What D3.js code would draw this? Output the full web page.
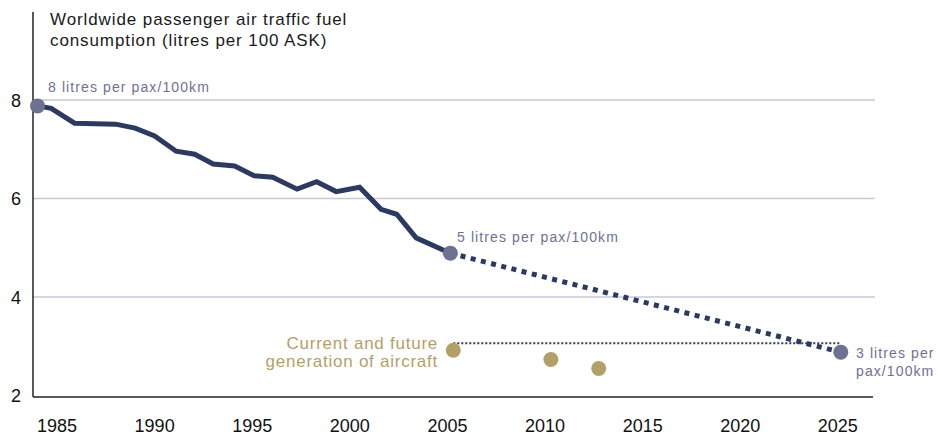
<!DOCTYPE html>
<html>
<head>
<meta charset="utf-8">
<script src="https://cdn.jsdelivr.net/npm/d3@7"></script>
<style>
  body { margin: 0; background: #fff; }
  svg { display: block; font-family: "Liberation Sans", Arial, sans-serif; }
</style>
</head>
<body>
<script>
const width = 940,
      height = 437;

// fuel burn history, litres per 100 ASK
const histYears = [1984, 1984.7, 1985.9, 1988, 1989, 1990, 1991.1, 1992.05, 1993, 1994.1,
                   1995.1, 1996.05, 1997.3, 1998.3, 1999.3, 2000.5, 2001.6, 2002.4, 2003.4, 2005.15];
const histValues = [7.88, 7.83, 7.53, 7.51, 7.43, 7.27, 6.96, 6.90, 6.70, 6.66,
                    6.46, 6.43, 6.19, 6.34, 6.14, 6.23, 5.78, 5.68, 5.20, 4.89];

// target path 2005 -> 2025
const targetYears = [2005.15, 2025.15];
const targetValues = [4.89, 2.88];

// current and future generation aircraft
const aircraftYears = [2005.3, 2010.3, 2012.75];
const aircraftValues = [2.92, 2.73, 2.55];
const aircraftLevel = 3.06;

const xTicks = [1985, 1990, 1995, 2000, 2005, 2010, 2015, 2020, 2025];
const yTicks = [2, 4, 6, 8];

const navy = "#2c3a5f",
      slate = "#6f7193",
      gold = "#b39f68",
      grid = "#c9c8d8";

const x = d3.scaleLinear().domain([1983.77, 2026.8]).range([33, 873]);
const y = d3.scaleLinear().domain([8, 4]).range([100, 297]);

const svg = d3.select("body").append("svg")
    .attr("width", width)
    .attr("height", height);

// gridlines
svg.selectAll(".grid")
  .data(yTicks.filter(d => d > 2))
  .enter().append("line")
    .attr("class", "grid")
    .attr("x1", x.range()[0]).attr("x2", 875)
    .attr("y1", d => y(d)).attr("y2", d => y(d))
    .attr("stroke", grid)
    .attr("stroke-width", 1.5);

// axes
svg.append("line")
    .attr("x1", 33).attr("x2", 33)
    .attr("y1", 12).attr("y2", y(1.97))
    .attr("stroke", "#222").attr("stroke-width", 1.5);
svg.append("line")
    .attr("x1", 33).attr("x2", x.range()[1])
    .attr("y1", y(1.97)).attr("y2", y(1.97))
    .attr("stroke", "#222").attr("stroke-width", 1.5);

svg.selectAll(".ylab")
  .data(yTicks)
  .enter().append("text")
    .attr("class", "ylab")
    .attr("x", 21)
    .attr("y", d => y(d) + 6.5)
    .attr("text-anchor", "end")
    .attr("font-size", 18)
    .attr("fill", "#111")
    .text(d => d);

svg.selectAll(".xlab")
  .data(xTicks)
  .enter().append("text")
    .attr("class", "xlab")
    .attr("x", d => x(d))
    .attr("y", 431.5)
    .attr("text-anchor", "middle")
    .attr("font-size", 18)
    .attr("fill", "#111")
    .text(d => d);

// title
svg.append("text")
    .attr("x", 50).attr("y", 25)
    .attr("font-size", 17)
    .attr("letter-spacing", 0.9)
    .attr("fill", "#1a1a1a")
    .selectAll("tspan")
    .data(["Worldwide passenger air traffic fuel", "consumption (litres per 100 ASK)"])
    .enter().append("tspan")
      .attr("x", 50)
      .attr("dy", (d, i) => i ? 20.5 : 0)
      .text(d => d);

const line = d3.line()
    .x(d => x(d[0]))
    .y(d => y(d[1]));

// aircraft level dotted line
svg.append("path")
    .attr("d", line([[aircraftYears[0], aircraftLevel], [targetYears[1], aircraftLevel]]))
    .attr("fill", "none")
    .attr("stroke", navy)
    .attr("stroke-width", 2)
    .attr("stroke-dasharray", "2,2");

// target projection
svg.append("path")
    .attr("d", line(d3.zip(targetYears, targetValues)))
    .attr("fill", "none")
    .attr("stroke", navy)
    .attr("stroke-width", 5)
    .attr("stroke-dasharray", "5,5.5");

// history
svg.append("path")
    .attr("d", line(d3.zip(histYears, histValues)))
    .attr("fill", "none")
    .attr("stroke", navy)
    .attr("stroke-width", 5)
    .attr("stroke-linejoin", "miter");

// aircraft dots
svg.selectAll(".aircraft")
  .data(d3.zip(aircraftYears, aircraftValues))
  .enter().append("circle")
    .attr("class", "aircraft")
    .attr("cx", d => x(d[0]))
    .attr("cy", d => y(d[1]))
    .attr("r", 7.5)
    .attr("fill", gold);

// milestone dots
const milestones = [[histYears[0], histValues[0]], [targetYears[0], targetValues[0]], [targetYears[1], targetValues[1]]];
svg.selectAll(".milestone")
  .data(milestones)
  .enter().append("circle")
    .attr("class", "milestone")
    .attr("cx", d => x(d[0]))
    .attr("cy", d => y(d[1]))
    .attr("r", 7.5)
    .attr("fill", slate);

// annotations
const note = (tx, ty, lines, color, anchor, size, spacing) => {
    svg.append("text")
        .attr("x", tx).attr("y", ty)
        .attr("font-size", size)
        .attr("letter-spacing", spacing)
        .attr("fill", color)
        .attr("text-anchor", anchor)
        .selectAll("tspan")
        .data(lines)
        .enter().append("tspan")
          .attr("x", tx)
          .attr("dy", (d, i) => i ? 18 : 0)
          .text(d => d);
};

note(48, 92, ["8 litres per pax/100km"], slate, "start", 14, 1.1);
note(457, 242, ["5 litres per pax/100km"], slate, "start", 14, 1.1);
note(856, 358, ["3 litres per", "pax/100km"], slate, "start", 14, 1.1);
note(438, 349, ["Current and future", "generation of aircraft"], gold, "end", 17, 0.75);
</script>
</body>
</html>
